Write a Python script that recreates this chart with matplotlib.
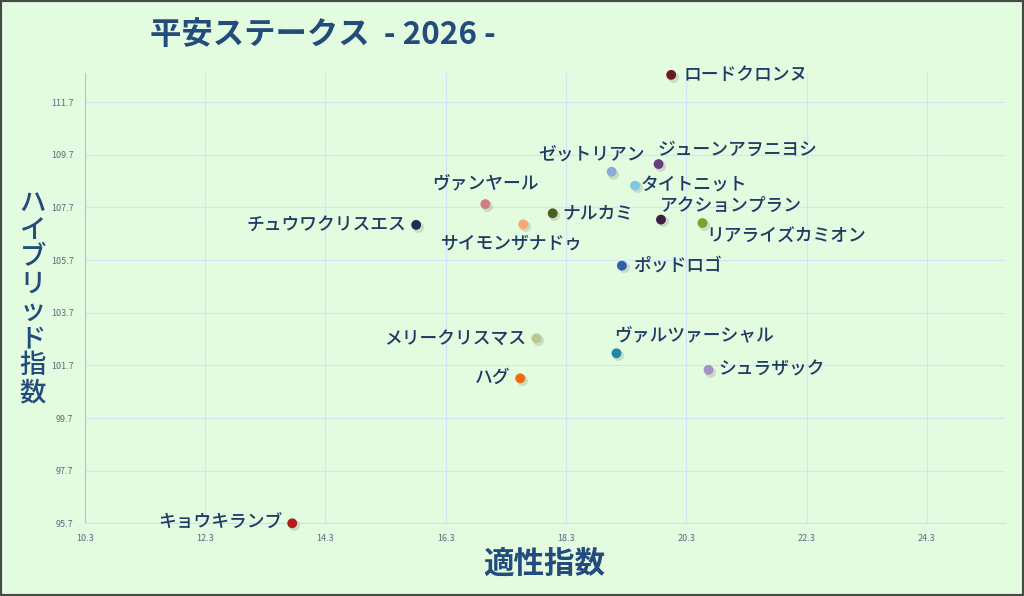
import matplotlib
matplotlib.use('Agg')
import matplotlib.pyplot as plt
from matplotlib.patches import Rectangle

plt.rcParams['font.family'] = ['Noto Sans CJK JP', 'DejaVu Sans']

# horses, aptitude index (x), hybrid index (y)
horses = ['ロードクロンヌ', 'ジューンアヲニヨシ', 'ゼットリアン', 'タイトニット',
          'ヴァンヤール', 'ナルカミ', 'アクションプラン', 'リアライズカミオン',
          'サイモンザナドゥ', 'チュウワクリスエス', 'ポッドロゴ', 'メリークリスマス',
          'ヴァルツァーシャル', 'シュラザック', 'ハグ', 'キョウキランブ']
aptitude = [20.05, 19.84, 19.06, 19.45, 16.96, 18.08, 19.88, 20.57,
            17.59, 15.81, 19.23, 17.81, 19.14, 20.67, 17.54, 13.75]
hybrid = [112.74, 109.35, 109.06, 108.53, 107.83, 107.48, 107.24, 107.11,
          107.06, 107.04, 105.49, 102.73, 102.16, 101.53, 101.21, 95.7]
colors = ['#6b1a1f', '#6a3d7e', '#8eaad8', '#7ec8e2', '#d47a82', '#4b5e1c',
          '#3f1f45', '#80a22c', '#f6a972', '#1b2f52', '#2e5fa8', '#bdc98c',
          '#1f88a8', '#aa90c6', '#f06a12', '#b01e1e']
# label placement: (dx, dy) in pixels, horizontal alignment
label_pos = [(12, 0, 'left'), (-1, 14, 'left'), (-20, 17, 'center'), (6, 0, 'left'),
             (0, 21, 'center'), (10, 0, 'left'), (-1, 14, 'left'), (4, -14, 'left'),
             (-11, -19, 'center'), (-10, 0, 'right'), (11, 0, 'left'), (-10, 0, 'right'),
             (-2, 18, 'left'), (10, 0, 'left'), (-10, 0, 'right'), (-10, 0, 'right')]

xticks = [10.3, 12.3, 14.3, 16.3, 18.3, 20.3, 22.3, 24.3]
yticks = [95.7, 97.7, 99.7, 101.7, 103.7, 105.7, 107.7, 109.7, 111.7]

bg = '#e3fce0'
navy = '#1f3b63'

fig = plt.figure(figsize=(10.24, 5.96), dpi=100, facecolor=bg)
ax = fig.add_axes([0.0827, 0.122, 0.8988, 0.7555], facecolor=bg)

ax.set_xlim(10.3, 25.6)
ax.set_ylim(95.7, 112.81)
ax.set_xticks(xticks)
ax.set_yticks(yticks)
ax.set_xticklabels([f'{v:.1f}' for v in xticks])
ax.set_yticklabels([f'{v:.1f}' for v in yticks])
ax.tick_params(length=0, labelsize=6.5, labelcolor='#5b6b80', pad=8)
ax.grid(True, color='#d6e3f6', linewidth=0.9)
ax.set_axisbelow(True)
for s in ['top', 'right']:
    ax.spines[s].set_visible(False)
ax.spines['left'].set_color('#a9c5ef')
ax.spines['bottom'].set_color('#cfe0f3')

# soft shadow then point
ax.scatter([a + 0.03 for a in aptitude], [h - 0.07 for h in hybrid], s=62,
           color='#000000', alpha=0.12, linewidths=0, zorder=3, clip_on=False)
ax.scatter(aptitude, hybrid, s=50, c=colors, linewidths=0, zorder=4, clip_on=False)

for name, x, y, (dx, dy, ha) in zip(horses, aptitude, hybrid, label_pos):
    ax.annotate(name, (x, y), xytext=(dx, dy), textcoords='offset pixels',
                ha=ha, va='center', fontsize=12.8, fontweight='medium',
                color=navy, zorder=5, annotation_clip=False)

fig.text(0.315, 0.942, '平安ステークス  - 2026 -', ha='center', va='center',
         fontsize=22.6, fontweight='bold', color='#234b7c')
fig.text(0.531, 0.054, '適性指数', ha='center', va='center',
         fontsize=22, fontweight='bold', color='#234b7c')
fig.text(0.032, 0.50, '\n'.join('ハイブリッド指数'), ha='center', va='center',
         fontsize=19, fontweight='medium', color='#234b7c', linespacing=1.0)

fig.patches.append(Rectangle((0, 0), 1, 1, transform=fig.transFigure,
                             fill=False, edgecolor='#454a45', linewidth=3))

fig.savefig('out.png', dpi=100, facecolor=bg)
